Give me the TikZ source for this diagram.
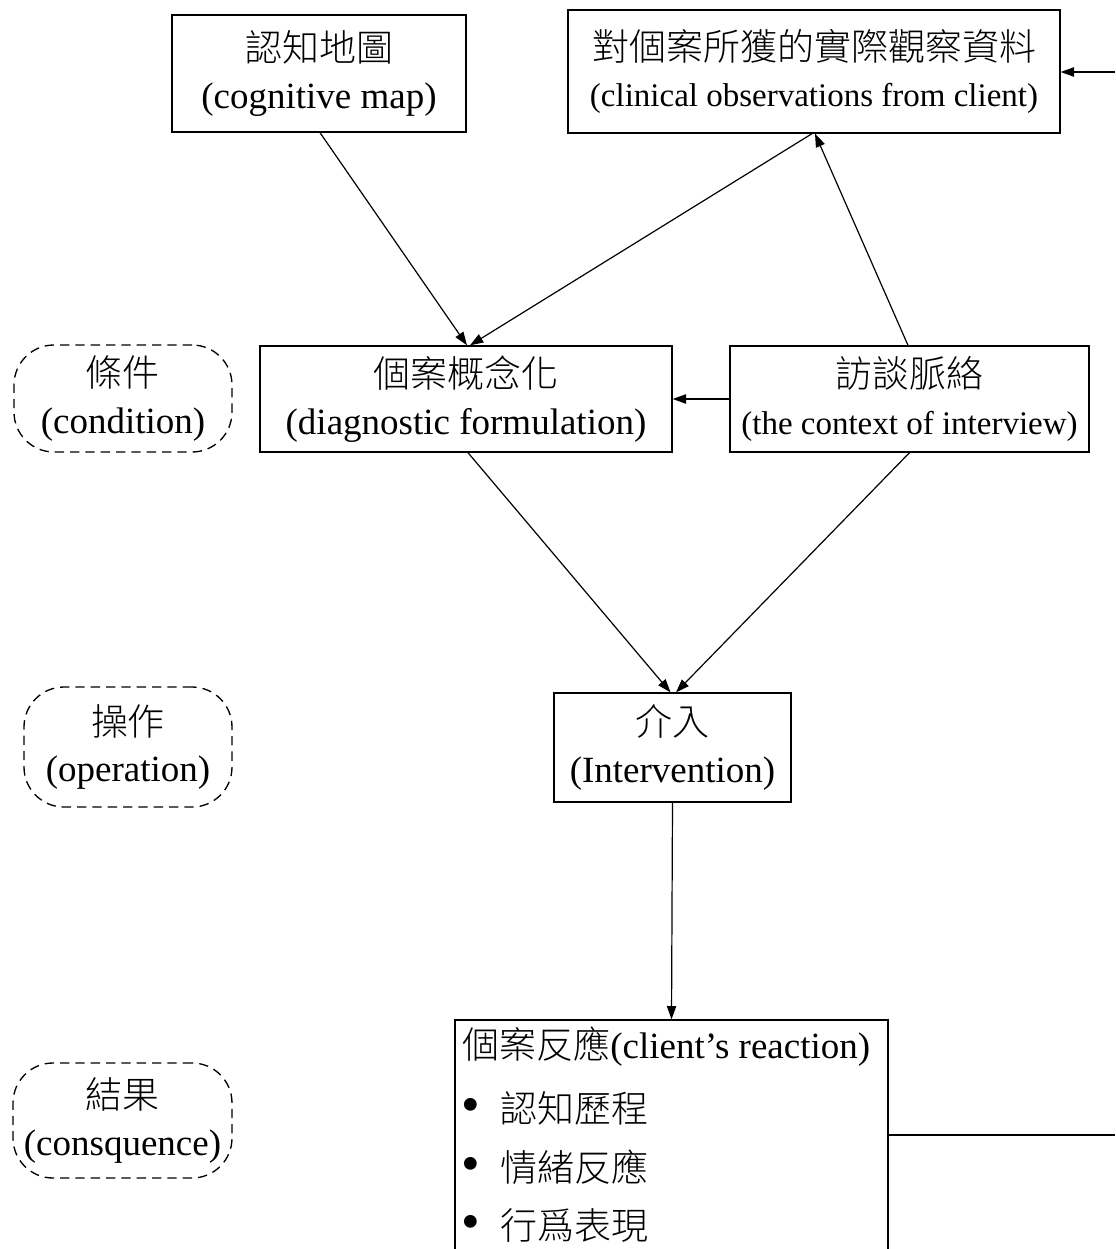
\documentclass[tikz,border=0pt]{standalone}
\usepackage{fontspec}
\setmainfont{Liberation Serif}
\newfontfamily\cjk{Noto Sans CJK TC Light}
\usetikzlibrary{arrows.meta,calc}
\newcommand\fbig{\fontsize{27.75pt}{35pt}\selectfont}
\newcommand\fsml{\fontsize{24.75pt}{33pt}\selectfont}
\newcommand\fbul{\fontsize{40pt}{40pt}\selectfont}
\tikzset{
  box/.style={draw, line width=1pt, inner sep=0pt, align=center, font=\fbig},
  dbox/.style={draw, dash pattern=on 7pt off 4.5pt, rounded corners=30pt, line width=1pt, inner sep=0pt, align=center, font=\fbig},
  conn/.style={line width=0.9pt, -{Triangle[length=10pt,width=7pt]}},
  plain/.style={line width=0.9pt},
  lbl/.style={inner sep=0pt, font=\fbig, anchor=west},
  bul/.style={inner sep=0pt, font=\fbul, anchor=center},
}
\begin{document}
\begin{tikzpicture}[x=0.75pt,y=-0.75pt]
\clip (0,0) rectangle (1115,1249);
\fill[white] (0,0) rectangle (1115,1249);
% main boxes
\node[box, minimum width={294*0.75pt}, minimum height={117*0.75pt}] (cmap) at (319,73.5)
  {{\cjk 認知地圖}\\(cognitive map)};
\node[box, minimum width={492*0.75pt}, minimum height={123*0.75pt}] (obs) at (814,71.5)
  {{\cjk 對個案所獲的實際觀察資料}\\{\fsml (clinical observations from client)}};
\node[box, minimum width={412*0.75pt}, minimum height={106*0.75pt}] (diag) at (466,399)
  {{\cjk 個案概念化}\\(diagnostic formulation)};
\node[box, minimum width={359*0.75pt}, minimum height={106*0.75pt}] (ctx) at (909.5,399)
  {{\cjk 訪談脈絡}\\{\fsml (the context of interview)}};
\node[box, minimum width={237*0.75pt}, minimum height={109*0.75pt}] (interv) at (672.5,747.5)
  {{\cjk 介入}\\(Intervention)};
\node[draw, line width=1pt, inner sep=0pt, minimum width={433*0.75pt}, minimum height={300*0.75pt}] (react) at (671.5,1170) {};
% text inside reaction box
\node[lbl] (rtitle) at (462,1047) {{\cjk 個案反應}(client’s reaction)};
\node[bul] (b1) at (471,1110) {•};
\node[lbl] (t1) at (500,1108) {\cjk 認知歷程};
\node[bul] (b2) at (471,1169) {•};
\node[lbl] (t2) at (500,1167) {\cjk 情緒反應};
\node[bul] (b3) at (471,1227) {•};
\node[lbl] (t3) at (500,1225) {\cjk 行爲表現};
% dashed side labels
\node[dbox, minimum width={218*0.75pt}, minimum height={107*0.75pt}] (cond) at (123,398.5)
  {{\cjk 條件}\\(condition)};
\node[dbox, minimum width={208*0.75pt}, minimum height={120*0.75pt}] (oper) at (128,747)
  {{\cjk 操作}\\(operation)};
\node[dbox, minimum width={219*0.75pt}, minimum height={115*0.75pt}] (cons) at (122.5,1120.5)
  {{\cjk 結果}\\(consquence)};
% free ends at right edge
\coordinate (ro) at (1115,72);
\coordinate (rr) at (1115,1135);
% connectors
\draw[conn] ($(cmap.south)+(1,0)$) -- ($(diag.north)+(1,0)$);
\draw[conn] ($(obs.south)+(-2,0)$) -- ($(diag.north)+(4,0)$);
\draw[conn] ($(ctx.north)+(-1.5,0)$) -- ($(obs.south)+(1,0)$);
\draw[conn] (ctx.west) -- (diag.east);
\draw[conn] ($(diag.south)+(2,0)$) -- ($(interv.north)+(-2,0)$);
\draw[conn] (ctx.south) -- ($(interv.north)+(3.5,0)$);
\draw[conn] (interv.south) -- (react.north);
\draw[plain] (rr -| react.east) -- (rr);
\draw[conn] (ro) -- (ro -| obs.east);
\end{tikzpicture}
\end{document}
